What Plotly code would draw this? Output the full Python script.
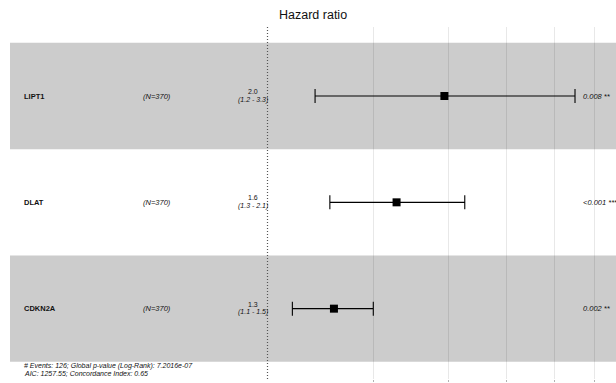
import numpy as np
import plotly.graph_objects as go

# ---- data ----
genes = ["LIPT1", "DLAT", "CDKN2A"]
n_obs = ["(N=370)", "(N=370)", "(N=370)"]
hr = [1.97, 1.64, 1.29]
ci_low = [1.20, 1.27, 1.10]
ci_high = [3.25, 2.13, 1.50]
hr_label = ["2.0", "1.6", "1.3"]
ci_label = ["(1.2 - 3.3)", "(1.3 - 2.1)", "(1.1 - 1.5)"]
p_label = ["0.008 **", "<0.001 ***", "0.002 **"]
tick_vals = [1.5, 2, 2.5, 3, 3.5]
tick_text = ["1.5", "2", "2.5", "3", "3.5"]
footnote = ["# Events: 126; Global p-value (Log-Rank): 7.2016e-07",
            "AIC: 1257.55; Concordance Index: 0.65"]

W, H = 616, 383
FONT = "Arial, Liberation Sans, sans-serif"

# pixel helpers for layout (x: px of HR=1 and px per ln unit)
X1_PX, PX_PER_LN = 267.5, 260.9
ROW0_PX, ROW_PX = 96.0, 106.33
PLOT_TOP, PLOT_BOT = 27, 379


def row_of_px(px):
    return (px - ROW0_PX) / ROW_PX


xmin = (0 - X1_PX) / PX_PER_LN / np.log(10)
xmax = (W - X1_PX) / PX_PER_LN / np.log(10)

rows = list(range(len(genes)))
fig = go.Figure()

fig.add_trace(go.Scatter(
    x=hr, y=rows, mode="markers",
    marker=dict(symbol="square", size=8, color="black"),
    error_x=dict(type="data", symmetric=False,
                 array=[h - e for h, e in zip(ci_high, hr)],
                 arrayminus=[e - l for e, l in zip(hr, ci_low)],
                 color="black", thickness=1.1, width=7),
    showlegend=False, hoverinfo="skip",
))

shapes = []
for r in rows:
    if r % 2 == 0:
        shapes.append(dict(type="rect", xref="paper", yref="y",
                           x0=10 / W, x1=1, y0=r - 0.5, y1=r + 0.5,
                           fillcolor="#cccccc", line=dict(width=0), layer="below"))
shapes.append(dict(type="line", xref="x", yref="paper", x0=1, x1=1, y0=0, y1=1,
                   line=dict(color="#555555", width=1.2, dash="1px,2px"), layer="above"))

ann = []
for r in rows:
    ann.append(dict(x=22 / W, xref="paper", y=r, yref="y", text="<b>%s</b>" % genes[r],
                    xanchor="left", yanchor="middle", showarrow=False,
                    font=dict(size=7.5, color="#111111", family=FONT)))
    ann.append(dict(x=157 / W, xref="paper", y=r, yref="y", text="<i>%s</i>" % n_obs[r],
                    xanchor="center", yanchor="middle", showarrow=False,
                    font=dict(size=7.5, color="#111111", family=FONT)))
    ann.append(dict(x=253 / W, xref="paper", y=r, yref="y", text=hr_label[r],
                    xanchor="center", yanchor="middle", yshift=4.5, showarrow=False,
                    font=dict(size=7, color="#111111", family=FONT)))
    ann.append(dict(x=253 / W, xref="paper", y=r, yref="y", text="<i>%s</i>" % ci_label[r],
                    xanchor="center", yanchor="middle", yshift=-3.5, showarrow=False,
                    font=dict(size=7, color="#111111", family=FONT)))
    ann.append(dict(x=581 / W, xref="paper", y=r, yref="y", text="<i>%s</i>" % p_label[r],
                    xanchor="left", yanchor="middle", showarrow=False,
                    font=dict(size=7.5, color="#111111", family=FONT)))

for i, (txt, px) in enumerate(zip(footnote, [365.5, 373.5])):
    ann.append(dict(x=22 / W, xref="paper", y=row_of_px(px), yref="y", text="<i>%s</i>" % txt,
                    xanchor="left", yanchor="middle", showarrow=False,
                    font=dict(size=7, color="#111111", family=FONT)))

ann.append(dict(x=313 / W, xref="paper", y=1 + (PLOT_TOP - 15.5) / (PLOT_BOT - PLOT_TOP),
                yref="paper", text="Hazard ratio",
                showarrow=False, xanchor="center", yanchor="middle",
                font=dict(size=12.5, color="#111111", family=FONT)))

fig.update_layout(
    width=W, height=H,
    margin=dict(l=0, r=0, t=PLOT_TOP, b=H - PLOT_BOT, pad=0, autoexpand=False),
    paper_bgcolor="white", plot_bgcolor="rgba(0,0,0,0)",
    xaxis=dict(type="log", range=[xmin, xmax], tickvals=tick_vals, ticktext=tick_text,
               automargin=False,
               showgrid=True, gridcolor="rgba(0,0,0,0.09)", gridwidth=1,
               zeroline=False, showline=False, ticks="outside", ticklen=2,
               tickcolor="rgba(0,0,0,0.3)",
               tickfont=dict(size=8, color="#4d4d4d", family=FONT)),
    yaxis=dict(range=[row_of_px(PLOT_BOT), row_of_px(PLOT_TOP)], showgrid=False,
               automargin=False,
               zeroline=False, showticklabels=False, showline=False),
    shapes=shapes, annotations=ann,
)

fig.write_html("out.html", config={"displayModeBar": False},
               post_script="document.body.style.margin='0';document.body.style.overflow='hidden';")
